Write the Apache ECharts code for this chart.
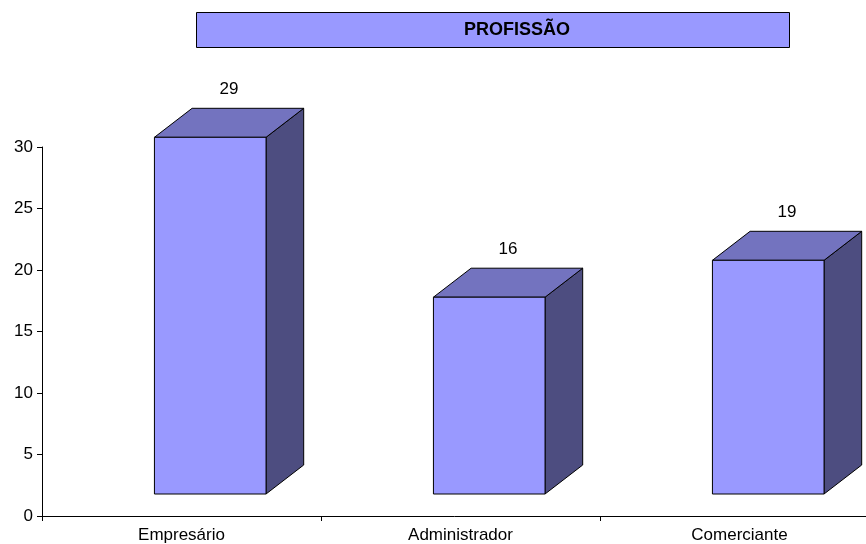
<!DOCTYPE html>
<html>
<head>
<meta charset="utf-8">
<script src="https://cdn.jsdelivr.net/npm/echarts@6/dist/echarts.min.js"></script>
<style>
  html, body { margin: 0; padding: 0; background: #fff; }
  #chart { width: 866px; height: 544px; }
</style>
</head>
<body>
<div id="chart"></div>
<script>
// Profession counts
const categories = ['Empresário', 'Administrador', 'Comerciante'];
const values = [29, 16, 19];
const yTicks = { min: 0, max: 30, interval: 5 };
const chartTitle = 'PROFISSÃO';

const FONT = '"Liberation Sans", Arial, sans-serif';
const FRONT = '#9999FF';
const TOP = '#7373BF';
const SIDE = '#4D4D80';

const chart = echarts.init(document.getElementById('chart'));

// Draws a 3D-looking block: front face, top face and right side face
function renderBlock(params, api) {
  const idx = api.value(0);
  const val = api.value(1);
  const base = api.coord([idx, 0]);
  const topPt = api.coord([idx, val]);
  const band = api.size([1, 0])[0];
  const lift = 22;                 // front face sits above the floor
  const dx = band * 0.135;         // depth offset
  const dy = -29;
  const x0 = base[0] - band * 0.097;
  const x1 = x0 + band * 0.4;
  const yb = base[1] - lift;
  const yt = topPt[1] - lift;
  const stroke = { stroke: '#000', lineWidth: 1 };
  return {
    type: 'group',
    children: [
      { type: 'polygon', shape: { points: [[x1, yt], [x1 + dx, yt + dy], [x1 + dx, yb + dy], [x1, yb]] },
        style: Object.assign({ fill: SIDE }, stroke) },
      { type: 'polygon', shape: { points: [[x0, yt], [x0 + dx, yt + dy], [x1 + dx, yt + dy], [x1, yt]] },
        style: Object.assign({ fill: TOP }, stroke) },
      { type: 'rect', shape: { x: x0, y: yt, width: x1 - x0, height: yb - yt },
        style: Object.assign({ fill: FRONT }, stroke) },
      { type: 'text', style: { text: String(val), x: (x0 + x1 + dx) / 2, y: yt + dy - 19,
        fill: '#000', font: '17px ' + FONT, align: 'center', verticalAlign: 'middle' } }
    ]
  };
}

chart.setOption({
  animation: false,
  backgroundColor: '#fff',
  grid: { left: 42, top: 147, width: 837, height: 369, outerBoundsMode: 'none', containLabel: false },
  xAxis: {
    type: 'category',
    data: categories,
    boundaryGap: true,
    axisLine: { lineStyle: { color: '#000', width: 1 } },
    axisTick: { show: true, length: 5, lineStyle: { color: '#000' } },
    axisLabel: { color: '#000', fontSize: 17, fontFamily: FONT, margin: 11 }
  },
  yAxis: {
    type: 'value',
    min: yTicks.min, max: yTicks.max, interval: yTicks.interval,
    axisLine: { show: true, lineStyle: { color: '#000', width: 1 } },
    axisTick: { show: true, length: 5, lineStyle: { color: '#000' } },
    axisLabel: { color: '#000', fontSize: 17, fontFamily: FONT, margin: 9 },
    splitLine: { show: false }
  },
  series: [{
    type: 'custom',
    renderItem: renderBlock,
    data: values.map((v, i) => [i, v]),
    encode: { x: 0, y: 1 },
    clip: false
  }],
  graphic: [
    { type: 'rect', left: 196, top: 12, shape: { width: 593, height: 35 },
      style: { fill: '#9999FF', stroke: '#000', lineWidth: 1 } },
    { type: 'text', x: 517, y: 30, style: { text: chartTitle, fill: '#000',
      font: 'bold 18px ' + FONT, align: 'center', verticalAlign: 'middle' } }
  ]
});
</script>
</body>
</html>
